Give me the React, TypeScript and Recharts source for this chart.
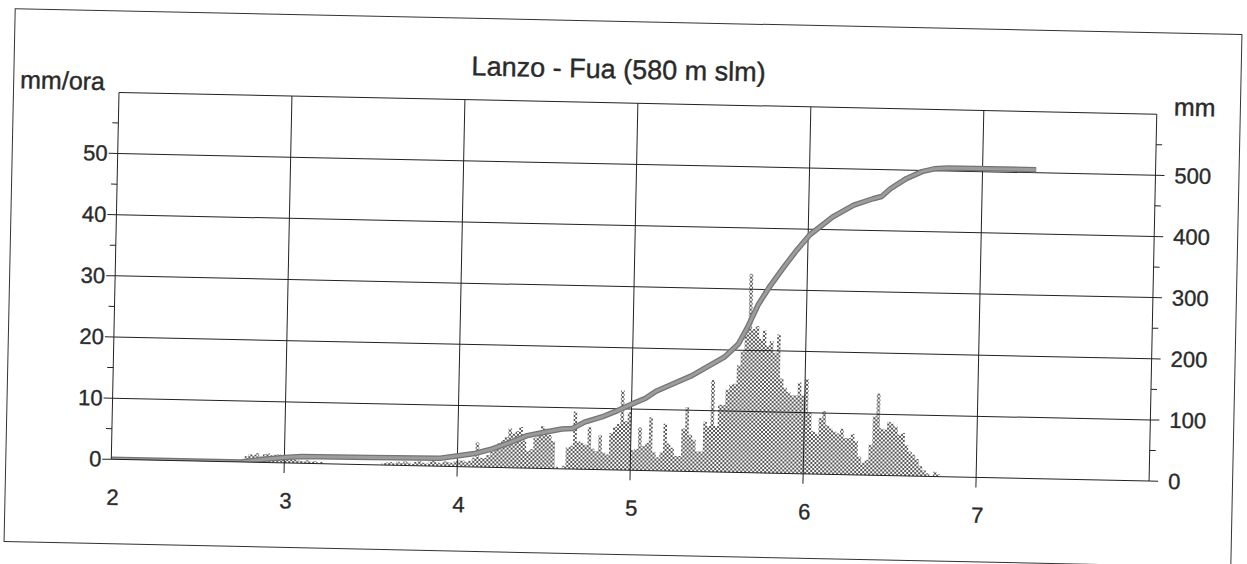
import React from 'react';
import { ComposedChart, Area, Line, XAxis, YAxis, ReferenceLine } from 'recharts';

const chartTitle = 'Lanzo - Fua (580 m slm)';
const leftUnit = 'mm/ora';
const rightUnit = 'mm';

const xTicks = [2, 3, 4, 5, 6, 7];
const leftTicks = [0, 5, 10, 15, 20, 25, 30, 35, 40, 45, 50, 55];
const rightTicks = [0, 50, 100, 150, 200, 250, 300, 350, 400, 450, 500, 550];
const gridX = [3, 4, 5, 6, 7];
const gridY = [10, 20, 30, 40, 50, 60];

// half-hourly rainfall intensity (mm/ora), starting at day 2.75
const rainStart = 2.75;
const rainStep = 1 / 48;
const rainFrom275 = [
  0.5, 1, 1.3, 1.2, 1.5, 1, 1.4, 1.5, 1.2, 1.3, 1.4, 1.2,
  0.8, 0.6, 0.8, 0.5, 0.4, 0.3, 0.5, 0.3, 0.4, 0.2, 0.3,
  0, 0, 0, 0, 0, 0, 0, 0, 0, 0, 0, 0, 0, 0, 0, 0,
  0.3, 0.4, 0.5, 0.3, 0.6, 0.4, 0.7, 0.5, 0.3, 0.6, 0.8, 0.5, 0.4, 0.7, 0.9, 0.6, 0.5, 0.8, 0.7, 0.6, 0.9,
];
const rainDay4 = [
  1, 1, 0.8, 1, 1.5, 4, 1.5, 1.5, 2, 2.5, 3, 4,
  4.5, 5, 6.4, 5.6, 6, 6.7, 4.5, 2.8, 3.1, 5, 6, 6.9, 6.5, 5.5, 4.5,
  0.3, 0, 0.5, 3.5, 3.8, 9.4, 4.5, 4.3, 4, 6.9, 3.4, 3, 5.6, 2.8, 2.5, 6, 7, 7.5, 13, 8, 9.5,
];
const rainDay5 = [
  3.3, 3.5, 7, 4, 4.5, 8.7, 3, 2.2, 3, 7.7, 4.5, 3.8, 2.5, 2.5, 7, 10.5,
  6, 5.2, 3.3, 3.3, 8.2, 7.5, 15, 7.5, 11, 11, 13.5, 14.3, 14.5, 17.5, 19.8, 23,
  32.5, 23.5, 24, 21.9, 23.3, 20.8, 21.6, 19.7, 22.7, 15.5, 14, 13.3, 12.8, 12.8, 14.9, 12.8,
];
const rainDay6 = [
  15.5, 10, 7, 6.5, 9.2, 10.3, 8, 7.5, 7, 6.7, 7.5, 6, 6, 6.7, 5.5, 3, 2, 2.5, 5,
  9.6, 13.4, 7.7, 7.5, 8.8, 8.5, 8, 6.7, 7, 5, 4, 3.5, 2.8, 1.7, 1, 0.5, 0, 0.8, 0.4, 0,
];

// cumulative rainfall (mm)
const cumTimes = [
  2.0, 2.75, 2.8, 2.9, 3.0, 3.1, 3.5, 3.9, 4.1, 4.2, 4.3, 4.4, 4.5, 4.6, 4.66, 4.73, 4.83,
  4.92, 5.0, 5.08, 5.14, 5.34, 5.43, 5.53, 5.61, 5.66, 5.72, 5.78, 5.86, 5.93, 6.01, 6.14,
  6.26, 6.37, 6.42, 6.47, 6.56, 6.65, 6.72, 6.8, 7.31,
];
const cumValues = [
  0, 0, 2, 6, 9, 11, 12, 13, 22, 30, 41, 53, 59, 65, 66, 77, 86,
  97, 108, 118, 130, 156, 171, 188, 210, 237, 275, 303, 336, 363, 391, 421,
  441, 452, 456, 469, 486, 498, 503, 505, 505,
];

const rainValues = [...rainFrom275, ...rainDay4, ...rainDay5, ...rainDay6];

type Row = { x: number; rain?: number; cum?: number };
const rows: Row[] = [];
rainValues.forEach((v, i) => rows.push({ x: rainStart + i * rainStep, rain: v }));
cumTimes.forEach((t, i) => rows.push({ x: t, cum: cumValues[i] }));
rows.sort((a, b) => a.x - b.x);

const FONT = '"Liberation Sans", Arial, Helvetica, sans-serif';
const INK = '#222';
const TXT = '#2a2a2a';
const TICK_FS = 22;

function TickText(props: any) {
  const { children, ...rest } = props;
  return (
    <text
      {...rest}
      dominantBaseline="central"
      fontSize={TICK_FS}
      fill={TXT}
      stroke={TXT}
      strokeWidth={0.35}
      fontFamily={FONT}
    >
      {children}
    </text>
  );
}

function LeftTick(props: any) {
  const { x, y, payload } = props;
  const v = payload.value;
  const major = v % 10 === 0;
  return (
    <g>
      <line x1={x} x2={x - (major ? 9 : 6)} y1={y} y2={y} stroke={INK} strokeWidth={1} />
      {major && (
        <TickText x={x - 10} y={y} textAnchor="end">
          {v}
        </TickText>
      )}
    </g>
  );
}

function RightTick(props: any) {
  const { x, y, payload } = props;
  const v = payload.value;
  const major = v % 100 === 0;
  return (
    <g>
      <line x1={x} x2={x + (major ? 9 : 6)} y1={y} y2={y} stroke={INK} strokeWidth={1} />
      {major && (
        <TickText x={x + 19} y={y} textAnchor="start">
          {v}
        </TickText>
      )}
    </g>
  );
}

function BottomTick(props: any) {
  const { x, y, payload } = props;
  const v = payload.value;
  return (
    <g>
      {v !== 2 && <line x1={x} x2={x} y1={y} y2={y + 10} stroke={INK} strokeWidth={1} />}
      <TickText x={x + 2} y={y + 38} textAnchor="middle">
        {v}
      </TickText>
    </g>
  );
}

const labelStyle: React.CSSProperties = {
  position: 'absolute',
  color: TXT,
  lineHeight: 1,
  whiteSpace: 'nowrap',
  WebkitTextStroke: '0.4px #2a2a2a',
};

export default function App() {
  return (
    <div>
      <svg width={0} height={0} style={{ position: 'absolute' }}>
        <defs>
          <pattern id="stipple" patternUnits="userSpaceOnUse" width={4} height={4}>
            <rect x={0} y={0} width={2} height={2} fill="#555" />
            <rect x={2} y={2} width={2} height={2} fill="#555" />
          </pattern>
        </defs>
      </svg>
      <div
        style={{
          position: 'absolute',
          left: 9,
          top: 20.5,
          width: 1228,
          height: 534,
          boxSizing: 'border-box',
          border: '1px solid #333',
          background: '#fff',
          transform: 'rotate(1.2deg)',
          fontFamily: FONT,
        }}
      >
        <div style={{ ...labelStyle, left: 604, top: 48, transform: 'translate(-50%, -50%)', fontSize: 27 }}>
          {chartTitle}
        </div>
        <div style={{ ...labelStyle, left: 6, top: 58, fontSize: 25 }}>{leftUnit}</div>
        <div style={{ ...labelStyle, left: 1160, top: 61, fontSize: 25 }}>{rightUnit}</div>
        <ComposedChart
          width={1226}
          height={532}
          data={rows}
          margin={{ top: 81, right: 0, bottom: 54, left: 0 }}
        >
          <XAxis
            dataKey="x"
            type="number"
            domain={[2, 8]}
            ticks={xTicks}
            interval={0}
            allowDataOverflow
            height={30}
            tickSize={0}
            tickMargin={0}
            tickLine={false}
            axisLine={{ stroke: INK, strokeWidth: 1 }}
            tick={(p: any) => <BottomTick {...p} />}
          />
          <YAxis
            yAxisId="left"
            domain={[0, 60]}
            ticks={leftTicks}
            interval={0}
            allowDataOverflow
            width={105}
            tickSize={0}
            tickMargin={0}
            tickLine={false}
            axisLine={{ stroke: INK, strokeWidth: 1 }}
            tick={(p: any) => <LeftTick {...p} />}
          />
          <YAxis
            yAxisId="right"
            orientation="right"
            domain={[0, 600]}
            ticks={rightTicks}
            interval={0}
            allowDataOverflow
            width={83}
            tickSize={0}
            tickMargin={0}
            tickLine={false}
            axisLine={{ stroke: INK, strokeWidth: 1 }}
            tick={(p: any) => <RightTick {...p} />}
          />
          {gridY.map((v) => (
            <ReferenceLine key={'gy' + v} yAxisId="left" y={v} stroke={INK} strokeWidth={1} />
          ))}
          {gridX.map((v) => (
            <ReferenceLine key={'gx' + v} yAxisId="left" x={v} stroke={INK} strokeWidth={1} />
          ))}
          <Area
            yAxisId="left"
            dataKey="rain"
            type="stepAfter"
            connectNulls
            stroke="none"
            fill="url(#stipple)"
            fillOpacity={1}
            isAnimationActive={false}
            dot={false}
            activeDot={false}
          />
          <Line
            yAxisId="right"
            dataKey="cum"
            type="linear"
            connectNulls
            stroke="#747474"
            strokeWidth={5.5}
            dot={false}
            activeDot={false}
            isAnimationActive={false}
            strokeLinejoin="round"
          />
          <Line
            yAxisId="right"
            dataKey="cum"
            type="linear"
            connectNulls
            stroke="#9c9c9c"
            strokeWidth={3}
            dot={false}
            activeDot={false}
            isAnimationActive={false}
            strokeLinejoin="round"
          />
        </ComposedChart>
      </div>
    </div>
  );
}
